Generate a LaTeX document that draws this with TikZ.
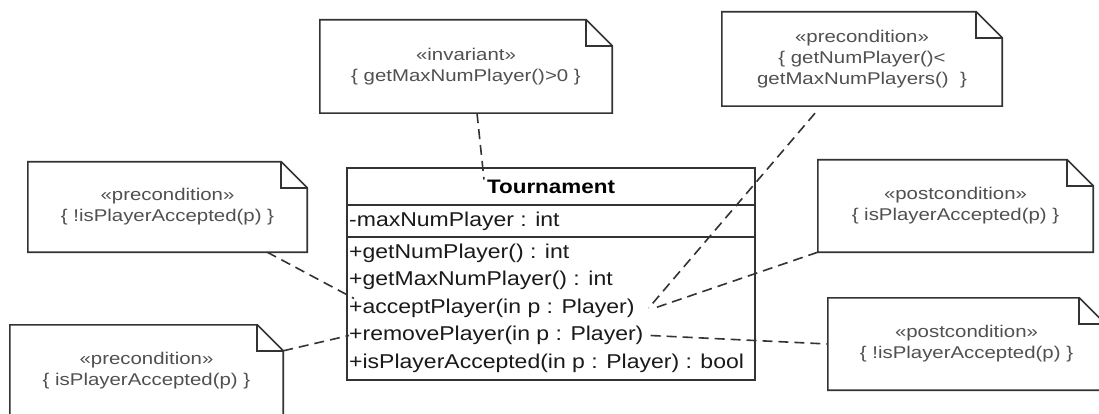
\documentclass[tikz,border=0pt]{standalone}
\usepackage{fontspec}
\setmainfont{Liberation Sans}
\newfontfamily\notefont[FakeStretch=1.2]{Liberation Sans}
\newfontfamily\classfont[FakeStretch=1.15]{Liberation Sans}
\usetikzlibrary{positioning}

\definecolor{linegray}{HTML}{333333}
\definecolor{notetext}{HTML}{505050}
\definecolor{membertext}{HTML}{1A1A1A}

\tikzset{
  notebox/.style={minimum width=#1, minimum height=92pt, inner sep=0pt, align=center,
    font=\notefont\fontsize{17}{21}\selectfont, text=notetext},
  noteline/.style={draw=linegray, line width=1.6pt, line join=miter},
  classline/.style={draw=linegray, line width=1.6pt},
  classname/.style={inner sep=0pt, font=\classfont\bfseries\fontsize{19.5}{24}\selectfont},
  member/.style={anchor=west, inner sep=0pt, font=\classfont\fontsize{20}{24}\selectfont, text=membertext},
  anchorline/.style={draw=linegray, line width=1.6pt, dash pattern=on 10pt off 6pt},
}

% dog-eared outline of a note node
\newcommand\notefold[1]{%
  \draw[noteline] (#1.south west) -- (#1.north west) -- ([xshift=-26pt]#1.north east)
    -- ([yshift=-26pt]#1.north east) -- (#1.south east) -- cycle;
  \draw[noteline] ([xshift=-26pt]#1.north east) |- ([yshift=-26pt]#1.north east);
}

\begin{document}
\begin{tikzpicture}[x=1pt, y=-1pt]

    % page frame
    \clip (0,0) rectangle (1099,414);
    \fill[white] (0,0) rectangle (1099,414);

    % 1. Notes
    \node[notebox=292pt, minimum height=93pt] (inv) at (466,66.5)
        {«invariant»\\\{ getMaxNumPlayer()>0 \}};
    \node[notebox=280pt, minimum height=94pt] (preNum) at (862,59)
        {«precondition»\\\{ getNumPlayer()<\\getMaxNumPlayers()~~\}};
    \node[notebox=279pt, minimum height=90pt] (preAcc) at (167.5,207)
        {«precondition»\\\{ !isPlayerAccepted(p) \}};
    \node[notebox=273pt] (preRem) at (146.5,371)
        {«precondition»\\\{ isPlayerAccepted(p) \}};
    \node[notebox=275pt] (postAcc) at (955.5,206)
        {«postcondition»\\\{ isPlayerAccepted(p) \}};
    \node[notebox=277pt] (postRem) at (966.5,344)
        {«postcondition»\\\{ !isPlayerAccepted(p) \}};

    \notefold{inv}
    \notefold{preNum}
    \notefold{preAcc}
    \notefold{preRem}
    \notefold{postAcc}
    \notefold{postRem}

    % 2. Class Tournament
    \draw[classline] (347,168) rectangle (755,380);
    \draw[classline] (347,205) -- (755,205);
    \draw[classline] (347,237) -- (755,237);

    \node[classname] (cls) at (551,186.5) {Tournament};
    \node[member] (attr) at (349,221) {-maxNumPlayer : int};
    \node[member] (op1) at (349,253) {+getNumPlayer() : int};
    \node[member] (op2) at (349,280.5) {+getMaxNumPlayer() : int};
    \node[member] (op3) at (349,308) {+acceptPlayer(in p : Player)};
    \node[member] (op4) at (349,335.5) {+removePlayer(in p : Player)};
    \node[member] (op5) at (349,363) {+isPlayerAccepted(in p : Player) : bool};

    % 3. Anchors of the notes
    \draw[anchorline] ([xshift=11pt]inv.south) -- ([xshift=-67pt]cls.north);
    \draw[anchorline] ([xshift=-47pt,yshift=-7pt]preNum.south) -- ([xshift=14pt]op3.east);
    \draw[anchorline] (postAcc.south west) -- ([xshift=20pt]op3.east);
    \draw[anchorline] ([xshift=7pt]op4.east) -- (postRem.west);
    \draw[anchorline] ([xshift=-40pt]preAcc.south east) -- ([xshift=5pt]op3.north west);
    \draw[anchorline] ([yshift=-26pt]preRem.north east) -- (op4.west);

\end{tikzpicture}
\end{document}
